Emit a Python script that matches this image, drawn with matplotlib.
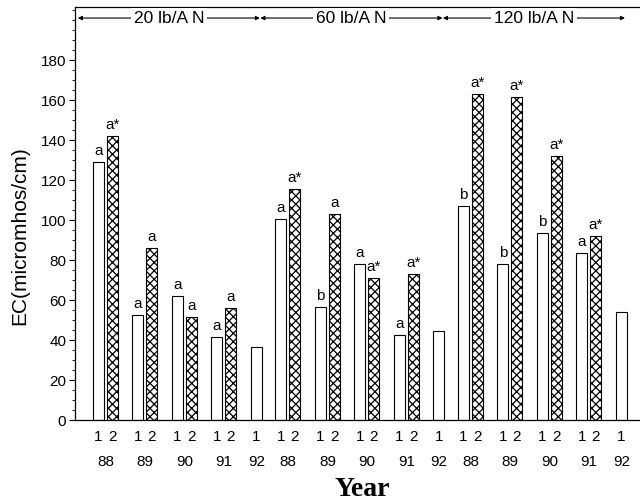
import numpy as np
import matplotlib
matplotlib.use('Agg')
import matplotlib.pyplot as plt
from matplotlib.ticker import MultipleLocator
import matplotlib.transforms as mtransforms

plt.rcParams['font.family'] = ['Liberation Sans', 'DejaVu Sans']
plt.rcParams['hatch.linewidth'] = 0.9

years = ['88', '89', '90', '91', '92']
rates = ['20 lb/A N', '60 lb/A N', '120 lb/A N']

# EC values, bar 1 (open) and bar 2 (hatched); year 92 has only bar 1
ec1_20 = [129, 52.5, 62, 41.5, 36.5]
ec2_20 = [142, 86, 51.5, 56]
ec1_60 = [100.5, 56.5, 78, 42.5, 44.5]
ec2_60 = [115.5, 103, 71, 73]
ec1_120 = [107, 78, 93.5, 83.5, 54]
ec2_120 = [163, 161.5, 132, 92]

lab1_20 = ['a', 'a', 'a', 'a', '']
lab2_20 = ['a*', 'a', 'a', 'a']
lab1_60 = ['a', 'b', 'a', 'a', '']
lab2_60 = ['a*', 'a', 'a*', 'a*']
lab1_120 = ['b', 'b', 'b', 'a', '']
lab2_120 = ['a*', 'a*', 'a*', 'a*']

ec1 = [ec1_20, ec1_60, ec1_120]
ec2 = [ec2_20, ec2_60, ec2_120]
lab1 = [lab1_20, lab1_60, lab1_120]
lab2 = [lab2_20, lab2_60, lab2_120]

# layout
block = 4.62
w = 0.28
off2 = 0.355

fig = plt.figure(figsize=(6.4, 5.03), dpi=100)
ax = fig.add_axes([0.1167, 0.165, 0.8864, 0.821])

tick_pos = []
tick_lab = []
for b in range(3):
    for j in range(5):
        x0 = b * block + j
        ax.bar(x0, ec1[b][j], width=w, color='white', edgecolor='black', linewidth=0.8)
        if lab1[b][j]:
            ax.text(x0, ec1[b][j] + 2, lab1[b][j], ha='center', va='bottom', fontsize=11)
        tick_pos.append(x0)
        tick_lab.append('1')
        if j < len(ec2[b]):
            ax.bar(x0 + off2, ec2[b][j], width=w, color='white', edgecolor='black',
                   linewidth=0.8, hatch='xxxx')
            ax.text(x0 + off2, ec2[b][j] + 2, lab2[b][j], ha='center', va='bottom', fontsize=11)
            tick_pos.append(x0 + off2)
            tick_lab.append('2')
            xc = x0 + off2 / 2
        else:
            xc = x0
        trans = mtransforms.blended_transform_factory(ax.transData, ax.transAxes)
        ax.text(xc, -0.102, years[j], transform=trans, ha='center', va='center', fontsize=11)

    # N-rate header with double arrow
    xs = b * block - 0.52
    xe = b * block + 4.09
    ax.annotate('', xy=(xs, 201), xytext=(xe, 201),
                arrowprops=dict(arrowstyle='<|-|>', lw=0.8, color='black',
                                mutation_scale=6, shrinkA=0, shrinkB=0))
    ax.text((xs + xe) / 2, 201, rates[b], ha='center', va='center', fontsize=12.5,
            bbox=dict(facecolor='white', edgecolor='none', pad=2))

ax.set_xticks(tick_pos)
ax.set_xticklabels(tick_lab, fontsize=11)
ax.tick_params(axis='x', length=0, pad=7)

ax.set_xlim(-0.60, 13.76)
ax.set_ylim(0, 206.5)
ax.set_yticks(np.arange(0, 181, 20))
ax.yaxis.set_minor_locator(MultipleLocator(5))
ax.tick_params(axis='y', which='major', length=4, width=0.8, labelsize=11, pad=2)
ax.tick_params(axis='y', which='minor', length=2, width=0.6)
ax.spines['right'].set_visible(False)
for s in ['left', 'top', 'bottom']:
    ax.spines[s].set_linewidth(0.9)

fig.text(0.031, 0.531, 'EC(micromhos/cm)', rotation=90, ha='center', va='center', fontsize=15)
fig.text(0.566, 0.026, 'Year', ha='center', va='center', fontsize=20,
         fontweight='bold', family=['Liberation Serif', 'DejaVu Serif'])

fig.savefig('out.png', dpi=100)
